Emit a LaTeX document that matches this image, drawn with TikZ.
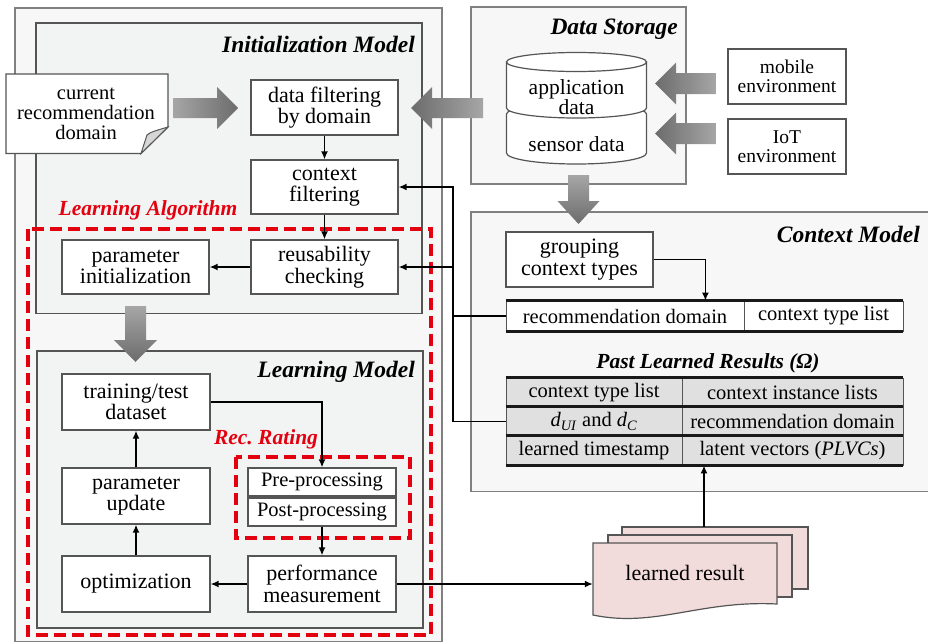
\documentclass[tikz,border=0pt]{standalone}
\usepackage{fontspec}
\setmainfont{LiberationSerif}[Extension=.ttf, UprightFont=*-Regular, BoldFont=*-Bold, ItalicFont=*-Italic, BoldItalicFont=*-BoldItalic]
\usetikzlibrary{arrows.meta,calc}
\definecolor{redd}{HTML}{E3000F}
\definecolor{outerfill}{HTML}{F7F7F7}
\definecolor{innerfill}{HTML}{F2F4F3}
\definecolor{edge}{HTML}{555555}
\definecolor{pinkf}{HTML}{F2DCDB}
\definecolor{cellg}{HTML}{E0E0E0}
\definecolor{arrL}{HTML}{A6A6A6}
\definecolor{arrD}{HTML}{6C6C6C}
\definecolor{folded}{HTML}{D6D6D6}
\begin{document}
\begin{tikzpicture}[x=1pt,y=-1pt,
  outerbox/.style={draw=black!50, fill=outerfill, line width=1.2pt},
  innerbox/.style={draw=edge, fill=innerfill, line width=1.2pt},
  redframe/.style={draw=redd, line width=4pt, dash pattern=on 12pt off 6pt},
  procbox/.style={draw=edge, fill=white, line width=1.2pt, inner sep=0pt, align=center, font=\fontsize{22}{21.5}\selectfont},
  smallbox/.style={draw=edge, fill=white, line width=1.2pt, inner sep=0pt, align=center, font=\fontsize{20.5}{20.5}\selectfont},
  envbox/.style={draw=edge, fill=white, line width=1.2pt, inner sep=0pt, align=center, font=\fontsize{19.5}{19.5}\selectfont},
  cellw/.style={draw=edge, fill=white, line width=0.8pt, inner sep=0pt, font=\fontsize{20.5}{20.5}\selectfont},
  cellgr/.style={draw=edge, fill=cellg, line width=0.8pt, inner sep=0pt, font=\fontsize{20.5}{20.5}\selectfont},
  rulethick/.style={draw=black!90, line width=3pt},
  title/.style={font=\fontsize{23.5}{24}\selectfont\bfseries\itshape, inner sep=0pt},
  subtitle/.style={font=\fontsize{21.5}{22}\selectfont\bfseries\itshape, inner sep=0pt},
  conn/.style={draw=black, line width=1.8pt, -{Latex[length=8pt,width=7pt]}},
  plainline/.style={draw=black, line width=1.8pt},
  docshape/.style={draw=edge, fill=pinkf, line width=1.2pt}
]
\useasboundingbox (0,0) rectangle (928,643);
\fill[white] (0,0) rectangle (928,643);

% ---------------- frames ----------------
\path[outerbox] (15,8) rectangle (442,641.5);
\path[innerbox] (36,23) rectangle (422,313.5);
\path[innerbox] (37,351) rectangle (423,628);
\path[outerbox] (471,7) rectangle (686,184);
\path[outerbox] (471,212) rectangle (935,491.5);

% ---------------- titles ----------------
\node[title, anchor=east] (tinit) at (415,44) {Initialization Model};
\node[title, anchor=east] (tlearn) at (415,372) {Learning Model};
\node[title, anchor=east] (tstore) at (678,29) {Data Storage};
\node[title, anchor=east] (tctx) at (920,234) {Context Model};
\node[subtitle] (tpast) at (708,363) {Past Learned Results (Ω)};
\node[subtitle, text=redd] (talg) at (148,210) {Learning Algorithm};
\node[subtitle, text=redd] (trec) at (266,439) {Rec.\ Rating};

% ---------------- red dashed frames ----------------
\path[redframe] (28,229) rectangle (431,635);
\path[redframe] (236,457) rectangle (410,538);

% ---------------- note: current recommendation domain ----------------
\path[draw=edge, fill=white, line width=1.2pt] (6,74) -- (168,74) -- (168,127) -- (141,153.5) -- (6,153.5) -- cycle;
\path[draw=edge, fill=folded, line width=1pt] (168,127) .. controls (158,130) and (150,132) .. (147,135) -- (141,153.5) -- cycle;
\node[align=center, font=\fontsize{20.5}{20}\selectfont, inner sep=0pt] (crd) at (86,114) {current\\recommendation\\domain};

% ---------------- initialization model boxes ----------------
\node[procbox, minimum width=147pt, minimum height=55pt] (df) at (324.5,107.5) {data filtering\\by domain};
\node[procbox, minimum width=147pt, minimum height=54pt] (cf) at (324.5,187) {context\\filtering};
\node[procbox, minimum width=147pt, minimum height=54pt] (rc) at (324.5,267) {reusability\\checking};
\node[procbox, minimum width=147pt, minimum height=54pt] (pi) at (135.5,267) {parameter\\initialization};

% ---------------- learning model boxes ----------------
\node[procbox, minimum width=148pt, minimum height=56pt] (tt) at (136,402) {training/test\\dataset};
\node[procbox, minimum width=148pt, minimum height=56pt] (pu) at (136,496) {parameter\\update};
\node[procbox, minimum width=148pt, minimum height=56pt] (op) at (136,584) {optimization};
\node[procbox, minimum width=148pt, minimum height=56pt] (pm) at (322,584) {performance\\measurement};
\node[smallbox, minimum width=148pt, minimum height=28pt] (pre) at (322,482) {Pre-processing};
\node[smallbox, minimum width=148pt, minimum height=28pt] (post) at (322,512) {Post-processing};

% ---------------- data storage ----------------
% sensor data cylinder (behind)
\path[draw=edge, fill=white, line width=1.2pt]
  (646.5,114) .. controls (646.5,108.5) and (615.2,104) .. (576.5,104)
  .. controls (537.8,104) and (506.5,108.5) .. (506.5,114)
  -- (506.5,153) .. controls (506.5,159.1) and (537.8,164) .. (576.5,164)
  .. controls (615.2,164) and (646.5,159.1) .. (646.5,153) -- cycle;
% application data cylinder
\path[draw=edge, fill=white, line width=1.2pt]
  (506.5,62) -- (506.5,108) .. controls (506.5,113.5) and (537.8,118) .. (576.5,118)
  .. controls (615.2,118) and (646.5,113.5) .. (646.5,108) -- (646.5,62) -- cycle;
\path[draw=edge, fill=white, line width=1.2pt] (576.5,62) ellipse [x radius=70pt, y radius=9.5pt];
\node[align=center, font=\fontsize{21.5}{19}\selectfont, inner sep=0pt] (app) at (576.5,97) {application\\data};
\node[font=\fontsize{21.5}{21.5}\selectfont, inner sep=0pt] (sen) at (576.5,144) {sensor data};

\node[envbox, minimum width=118pt, minimum height=55pt] (mob) at (787,76.5) {mobile\\environment};
\node[envbox, minimum width=118pt, minimum height=55pt] (iot) at (787,146.5) {IoT\\environment};

% ---------------- context model ----------------
\node[procbox, minimum width=147pt, minimum height=55pt] (gct) at (579.5,259.5) {grouping\\context types};
\node[cellw, minimum width=238pt, minimum height=30pt] (ct1) at (625,316) {recommendation domain};
\node[cellw, minimum width=159pt, minimum height=30pt] (ct2) at (823.5,316) {context type list};
\draw[rulethick] (ct1.north west) -- (ct2.north east);
\draw[rulethick] (ct1.south west) -- (ct2.south east);

\node[cellgr, minimum width=176pt, minimum height=29pt] (p11) at (594,392.5) {context type list};
\node[cellgr, minimum width=221pt, minimum height=29pt] (p12) at (792.5,392.5) {context instance lists};
\node[cellgr, minimum width=176pt, minimum height=29pt] (p21) at (594,421.5) {\textit{d}\textsubscript{\textit{UI}} and \textit{d}\textsubscript{\textit{C}}};
\node[cellgr, minimum width=221pt, minimum height=29pt] (p22) at (792.5,421.5) {recommendation domain};
\node[cellgr, minimum width=176pt, minimum height=29pt] (p31) at (594,450.5) {learned timestamp};
\node[cellgr, minimum width=221pt, minimum height=29pt] (p32) at (792.5,450.5) {latent vectors (\textit{PLVCs})};
\draw[rulethick] (p11.north west) -- (p12.north east);
\draw[rulethick] (p21.north west) -- (p22.north east);
\draw[rulethick] (p31.north west) -- (p32.north east);
\draw[rulethick] (p31.south west) -- (p32.south east);

% ---------------- learned result stack ----------------
\path[docshape] (622,527) rectangle (808,589);
\path[docshape] (608,535) rectangle (792,597);
\path[docshape] (593,543) -- (777,543) -- (777,604)
  .. controls (700,600) and (655,628) .. (593,615) -- cycle;
\node[font=\fontsize{22}{22}\selectfont, minimum width=184pt, minimum height=60pt, inner sep=0pt] (lr) at (685,573) {learned result};
\coordinate (docin) at (704,527);

% ---------------- big block arrows ----------------
\shade[left color=arrL, right color=arrD] (173,98) -- (217,98) -- (217,87) -- (238,108) -- (217,129) -- (217,118) -- (173,118) -- cycle;
\shade[left color=arrD, right color=arrL] (483,98) -- (432,98) -- (432,87) -- (411,108) -- (432,129) -- (432,118) -- (483,118) -- cycle;
\shade[left color=arrD, right color=arrL] (716,73) -- (676,73) -- (676,62.5) -- (655,83.5) -- (676,104.5) -- (676,94) -- (716,94) -- cycle;
\shade[left color=arrD, right color=arrL] (716,123) -- (676,123) -- (676,112.5) -- (655,133.5) -- (676,154.5) -- (676,144) -- (716,144) -- cycle;
\shade[top color=arrL, bottom color=arrD] (568,175) -- (589,175) -- (589,201) -- (599.5,201) -- (578.5,224) -- (557.5,201) -- (568,201) -- cycle;
\shade[top color=arrL, bottom color=arrD] (125,306) -- (146,306) -- (146,340) -- (157,340) -- (135.5,362) -- (114,340) -- (125,340) -- cycle;

% ---------------- connectors ----------------
\draw[conn] (df.south) -- (cf.north);
\draw[conn] (cf.south) -- (rc.north);
\draw[conn] (rc.west) -- (pi.east);

\draw[conn] (tt.east) -| (pre.north);
\draw[conn] (post.south) -- (pm.north);
\draw[conn] (pm.west) -- (op.east);
\draw[conn] (op.north) -- (pu.south);
\draw[conn] (pu.north) -- (tt.south);

\coordinate (bus) at (453,187);
\draw[conn] (p21.west) -| (bus) -- (cf.east);
\draw[conn] (bus |- rc.east) -- (rc.east);
\draw[plainline] (ct1.west) -- (bus |- ct1.west);

\draw[conn] (gct.east) -| ($(ct1.north east)+(-39,0)$);
\draw[conn] (pm.east) -- (pm.east -| lr.west);
\draw[conn] (docin) -- (docin |- p31.south);
\end{tikzpicture}
\end{document}
